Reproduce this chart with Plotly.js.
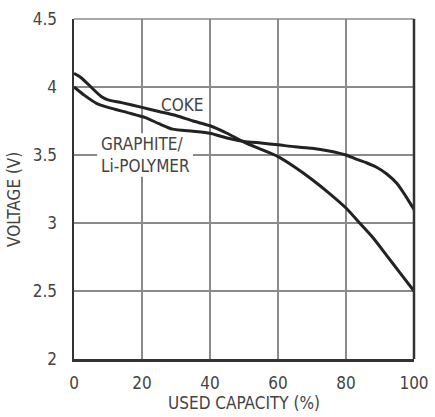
<!DOCTYPE html>
<html>
<head>
<meta charset="utf-8">
<script src="https://cdn.plot.ly/plotly-3.0.1.min.js"></script>
<style>
html,body{margin:0;padding:0;background:#fff;}
#chart{width:435px;height:417px;}
</style>
</head>
<body>
<div id="chart"></div>
<script>
const cokeCapacity = [0, 2, 5, 8, 10, 14, 20, 25, 30, 35, 40, 45, 50, 55, 60, 65, 70, 75, 80, 84, 88, 92, 96, 100];
const cokeVoltage  = [4.10, 4.07, 4.00, 3.93, 3.905, 3.885, 3.85, 3.82, 3.79, 3.75, 3.715, 3.66, 3.595, 3.542, 3.488, 3.41, 3.32, 3.22, 3.11, 3.00, 2.89, 2.76, 2.63, 2.50];

const graphiteCapacity = [0, 3, 6.6, 10, 16, 21, 25, 29, 35, 40, 45, 50, 55, 60, 65, 70, 75, 80, 83, 86, 89, 92, 95, 97.5, 100];
const graphiteVoltage  = [4.00, 3.94, 3.88, 3.85, 3.81, 3.775, 3.73, 3.69, 3.675, 3.66, 3.625, 3.60, 3.588, 3.575, 3.56, 3.55, 3.53, 3.50, 3.47, 3.443, 3.41, 3.36, 3.29, 3.20, 3.10];

const xTicks = [0, 20, 40, 60, 80, 100];
const yTicks = [2, 2.5, 3, 3.5, 4, 4.5];
const yTickLabels = ['2', '2.5', '3', '3.5', '4', '4.5'];

const FONT = '"DejaVu Sans Condensed", "Liberation Sans Narrow", "Arial Narrow", sans-serif';
const TXT = '#444444';
const LINE = '#222222';

const traces = [
  {x: cokeCapacity, y: cokeVoltage, mode: 'lines', line: {color: LINE, width: 3, shape: 'spline', smoothing: 0.6}, name: 'COKE', hoverinfo: 'skip'},
  {x: graphiteCapacity, y: graphiteVoltage, mode: 'lines', line: {color: LINE, width: 3, shape: 'spline', smoothing: 0.6}, name: 'GRAPHITE/Li-POLYMER', hoverinfo: 'skip'}
];

const layout = {
  width: 435, height: 417,
  margin: {l: 74, r: 21, t: 19, b: 58, pad: 0},
  paper_bgcolor: '#ffffff', plot_bgcolor: '#ffffff',
  showlegend: false,
  font: {family: FONT, size: 17, color: TXT},
  xaxis: {
    range: [0, 100], tickvals: xTicks, ticktext: xTicks.map(String),
    showgrid: true, gridcolor: '#8a8a8a', gridwidth: 1.5,
    showline: true, linecolor: '#333333', linewidth: 2.5,
    zeroline: false, ticks: '', ticklabelstandoff: 7,
    tickfont: {family: FONT, size: 17, color: TXT},
    title: {text: 'USED CAPACITY (%)', font: {family: FONT, size: 17, color: TXT}, standoff: 3}
  },
  yaxis: {
    range: [2, 4.5], tickvals: yTicks, ticktext: yTickLabels,
    showgrid: true, gridcolor: '#8a8a8a', gridwidth: 1.5,
    showline: true, linecolor: '#333333', linewidth: 2.5,
    zeroline: false, ticks: '', ticklabelstandoff: 11,
    tickfont: {family: FONT, size: 17, color: TXT}
  },
  shapes: [
    {type: 'line', xref: 'paper', yref: 'paper', x0: 0, x1: 1, y0: 1, y1: 1, line: {color: '#8a8a8a', width: 1.5}},
    {type: 'line', xref: 'paper', yref: 'paper', x0: 1, x1: 1, y0: 0, y1: 1, line: {color: '#333333', width: 2.5}},
    {type: 'rect', layer: 'between', xref: 'x', yref: 'y', x0: 6.8, x1: 35, y0: 3.34, y1: 3.66, fillcolor: '#ffffff', line: {width: 0}}
  ],
  annotations: [
    {xref: 'paper', yref: 'paper', x: -0.177, y: 0.47, text: 'VOLTAGE (V)', textangle: -90, showarrow: false,
     xanchor: 'center', yanchor: 'middle', font: {family: FONT, size: 17, color: TXT}},
    {x: 31.8, y: 3.868, text: 'COKE', showarrow: false, xanchor: 'center', yanchor: 'middle',
     font: {family: FONT, size: 17, color: TXT}},
    {x: 7.4, y: 3.5, text: 'GRAPHITE/<br>Li-POLYMER', showarrow: false, xanchor: 'left', yanchor: 'middle', align: 'left',
     font: {family: FONT, size: 17, color: TXT}}
  ]
};

Plotly.newPlot('chart', traces, layout, {displayModeBar: false, staticPlot: true});
</script>
</body>
</html>
